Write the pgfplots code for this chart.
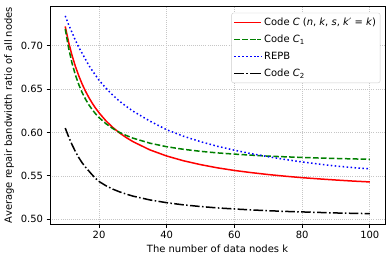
\documentclass[border=0pt]{standalone}
\usepackage{fontspec}
\setmainfont{DejaVu Sans}
\usepackage{pgfplots}
\usepackage{pgfplotstable}
\pgfplotsset{compat=1.18}

\pgfplotstableread{
k v
10 0.7219
11 0.7038
12 0.6887
13 0.6760
14 0.6651
15 0.6556
16 0.6473
17 0.6400
18 0.6335
19 0.6277
20 0.6225
22 0.6134
24 0.6059
26 0.5995
28 0.5941
30 0.5894
35 0.5799
40 0.5728
45 0.5673
50 0.5629
55 0.5592
60 0.5562
65 0.5537
70 0.5515
75 0.5496
80 0.5479
85 0.5465
90 0.5452
95 0.5440
100 0.5430
}\codeC

\pgfplotstableread{
k v
10 0.7190
11 0.6970
12 0.6798
13 0.6661
14 0.6550
15 0.6458
16 0.6382
17 0.6316
18 0.6261
19 0.6212
20 0.6170
22 0.6101
24 0.6046
26 0.6001
28 0.5965
30 0.5934
35 0.5876
40 0.5835
45 0.5805
50 0.5782
55 0.5764
60 0.5750
65 0.5738
70 0.5727
75 0.5719
80 0.5712
85 0.5705
90 0.5700
95 0.5695
100 0.5690
}\codeCone

\pgfplotstableread{
k v
10 0.7340
11 0.7240
12 0.7150
13 0.7060
14 0.6980
15 0.6910
16 0.6840
17 0.6770
18 0.6710
19 0.6655
20 0.6600
22 0.6510
24 0.6430
26 0.6360
28 0.6300
30 0.6245
35 0.6130
40 0.6030
45 0.5955
50 0.5893
55 0.5840
60 0.5795
65 0.5755
70 0.5720
75 0.5688
80 0.5660
85 0.5635
90 0.5613
95 0.5595
100 0.5580
}\repb

\pgfplotstableread{
k v
10 0.6050
11 0.5950
12 0.5860
13 0.5780
14 0.5710
15 0.5650
16 0.5600
17 0.5555
18 0.5510
19 0.5470
20 0.5435
22 0.5387
24 0.5348
26 0.5317
28 0.5290
30 0.5267
35 0.5223
40 0.5191
45 0.5166
50 0.5147
55 0.5131
60 0.5119
65 0.5108
70 0.5099
75 0.5091
80 0.5085
85 0.5079
90 0.5073
95 0.5069
100 0.5065
}\codeCtwo

\begin{document}
\begin{tikzpicture}
\begin{axis}[
  scale only axis,
  width=335bp, height=218bp,
  xmin=5.5, xmax=104.5,
  ymin=0.4946, ymax=0.7454,
  xtick={20,40,60,80,100},
  ytick={0.50,0.55,0.60,0.65,0.70},
  /pgf/number format/assume math mode=true,
  yticklabel style={/pgf/number format/.cd, fixed, fixed zerofill, precision=2},
  xticklabel style={/pgf/number format/.cd, fixed},
  tick align=outside,
  tick pos=left,
  major tick length=3.5bp,
  every tick/.style={black, line width=0.8bp},
  axis line style={line width=0.8bp},
  grid=major,
  grid style={gray!45, line width=0.6bp, dash pattern=on 0.8bp off 1.3bp},
  xlabel={The number of data nodes k},
  ylabel={Average repair bandwidth ratio of all nodes},
  label style={font=\fontsize{10}{12}\selectfont},
  ticklabel style={font=\fontsize{10}{12}\selectfont},
  legend style={at={(0.986,0.969)}, anchor=north east,
    draw=black!20, rounded corners=2pt, fill=white,
    font=\fontsize{10}{12}\selectfont, row sep=4bp, inner xsep=2bp, inner ysep=3bp},
  legend cell align=left,
  legend image code/.code={\draw[#1] (0bp,0bp) -- (23bp,0bp); \path (23bp,0bp) -- (27bp,0bp);},
]
\addplot[color=red, line width=1.5bp] table[x=k,y=v] {\codeC};
\addlegendentry{Code \textit{C} (\textit{n}, \textit{k}, \textit{s}, \textit{k}′ = \textit{k})}
\addplot[color=green!50!black, line width=1.5bp, dash pattern=on 5.55bp off 2.4bp] table[x=k,y=v] {\codeCone};
\addlegendentry{Code \textit{C}\textsubscript{1}}
\addplot[color=blue, line width=1.5bp, dash pattern=on 1.5bp off 2.475bp] table[x=k,y=v] {\repb};
\addlegendentry{REPB}
\addplot[color=black, line width=1.5bp, dash pattern=on 9.6bp off 2.4bp on 1.5bp off 2.4bp] table[x=k,y=v] {\codeCtwo};
\addlegendentry{Code \textit{C}\textsubscript{2}}
\end{axis}
\path (current axis.south west) ++(-50bp,-38bp) (current axis.north east) ++(7bp,6bp);
\end{tikzpicture}
\end{document}
